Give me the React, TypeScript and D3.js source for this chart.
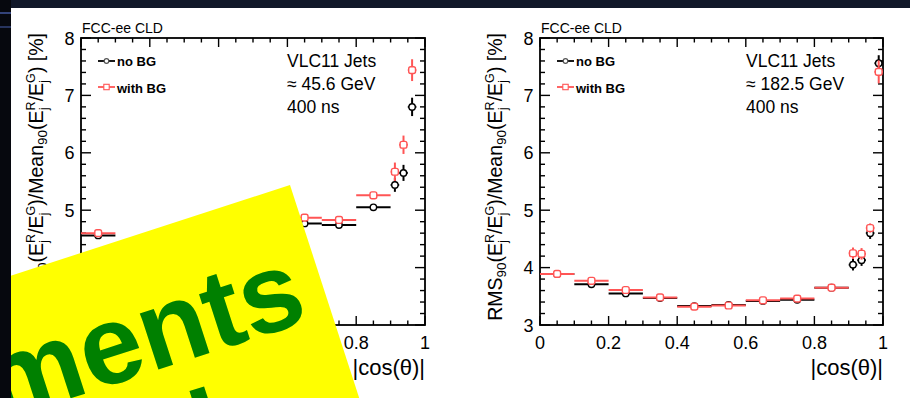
import React from "react";
import * as d3 from "d3";

// ---------- data ----------
const binEdges = [0, 0.1, 0.2, 0.3, 0.4, 0.5, 0.6, 0.7, 0.8, 0.9, 0.925, 0.95, 0.975, 1.0];

// 45.6 GeV panel
const noBG_45 = [4.56, 4.37, 4.33, 4.36, 4.45, 4.6, 4.77, 4.74, 5.05, 5.44, 5.65, 6.8, null];
const noBGErr_45 = [0.03, 0.03, 0.03, 0.03, 0.03, 0.03, 0.03, 0.03, 0.04, 0.12, 0.14, 0.16, null];
const withBG_45 = [4.6, 4.42, 4.38, 4.41, 4.5, 4.66, 4.87, 4.83, 5.26, 5.67, 6.14, 7.44, null];
const withBGErr_45 = [0.03, 0.03, 0.03, 0.03, 0.03, 0.03, 0.03, 0.03, 0.04, 0.16, 0.16, 0.19, null];

// 182.5 GeV panel
const noBG_182 = [3.89, 3.71, 3.55, 3.47, 3.33, 3.35, 3.42, 3.44, 3.65, 4.05, 4.13, 4.6, 7.56];
const noBGErr_182 = [0.02, 0.02, 0.02, 0.02, 0.02, 0.02, 0.02, 0.02, 0.02, 0.1, 0.1, 0.1, 0.14];
const withBG_182 = [3.89, 3.77, 3.61, 3.48, 3.32, 3.34, 3.43, 3.46, 3.65, 4.25, 4.24, 4.69, 7.41];
const withBGErr_182 = [0.02, 0.02, 0.02, 0.02, 0.02, 0.02, 0.02, 0.02, 0.02, 0.1, 0.1, 0.08, 0.2];

const xTickValues = [0, 0.2, 0.4, 0.6, 0.8, 1];
const xTickLabels = ["0", "0.2", "0.4", "0.6", "0.8", "1"];
const yTickValues = [3, 4, 5, 6, 7, 8];
const yTickLabels = ["3", "4", "5", "6", "7", "8"];
const legendLabels = ["no BG", "with BG"];
const info_45 = ["VLC11 Jets", "≈ 45.6 GeV", "400 ns"];
const info_182 = ["VLC11 Jets", "≈ 182.5 GeV", "400 ns"];
const experimentLabel = "FCC-ee CLD";
const xTitle = "|cos(θ)|";
const stickerLines = ["ments", "needed"];

// ---------- style ----------
const FONT = "'Liberation Sans', Arial, Helvetica, sans-serif";
const RED = "#ff5555";
const BLACK = "#000";
const Y_TOP = 38;
const Y_BOT = 325;

function Points({ x, y, vals, errs, color, marker }: any) {
  return (
    <g>
      {vals.map((v: number | null, i: number) => {
        if (v === null) return null;
        const lo = binEdges[i];
        const hi = binEdges[i + 1];
        const c = (lo + hi) / 2;
        const e = errs[i] as number;
        const cx = x(c);
        const cy = y(v);
        return (
          <g key={i}>
            <line x1={x(lo)} x2={x(hi)} y1={cy} y2={cy} stroke={color} strokeWidth={2} />
            <line x1={cx} x2={cx} y1={y(v - e)} y2={y(v + e)} stroke={color} strokeWidth={2} />
            {marker === "circle" ? (
              <circle cx={cx} cy={cy} r={3.2} fill="#fff" stroke={color} strokeWidth={1.4} />
            ) : (
              <rect x={cx - 3.4} y={cy - 3.4} width={6.8} height={6.8} rx={2} fill="#fff" stroke={color} strokeWidth={1.4} />
            )}
          </g>
        );
      })}
    </g>
  );
}

function YTitle({ bx }: { bx: number }) {
  const sup = 12.5;
  const sub = 13.5;
  return (
    <text transform={`translate(${bx},33) rotate(-90)`} textAnchor="end" fontFamily={FONT} fontSize={19.5} fill="#000">
      <tspan>RMS</tspan>
      <tspan fontSize={sub} dy={4}>90</tspan>
      <tspan dy={-4}>(E</tspan>
      <tspan fontSize={sup} dy={-8}>R</tspan>
      <tspan fontSize={sub} dx={-9} dy={13}>j</tspan>
      <tspan dx={6} dy={-5}>/E</tspan>
      <tspan fontSize={sup} dy={-8}>G</tspan>
      <tspan fontSize={sub} dx={-9.7} dy={13}>j</tspan>
      <tspan dx={6.8} dy={-5}>)/Mean</tspan>
      <tspan fontSize={sub} dy={4}>90</tspan>
      <tspan dy={-4}>(E</tspan>
      <tspan fontSize={sup} dy={-8}>R</tspan>
      <tspan fontSize={sub} dx={-9} dy={13}>j</tspan>
      <tspan dx={6} dy={-5}>/E</tspan>
      <tspan fontSize={sup} dy={-8}>G</tspan>
      <tspan fontSize={sub} dx={-9.7} dy={13}>j</tspan>
      <tspan dx={6.8} dy={-5}>) [%]</tspan>
    </text>
  );
}

function Panel({ x0, x1, noBG, noBGErr, withBG, withBGErr, info }: any) {
  const x = d3.scaleLinear().domain([0, 1]).range([x0, x1]);
  const y = d3.scaleLinear().domain([3, 8]).range([Y_BOT, Y_TOP]);
  const xMinor = d3.range(0, 1.0001, 0.05).filter((v) => Math.abs(v / 0.2 - Math.round(v / 0.2)) > 1e-6);
  const yMinor = d3.range(3, 8.0001, 0.2).filter((v) => Math.abs(v - Math.round(v)) > 1e-6);
  const tickW = 1.4;
  return (
    <g>
      {xTickValues.map((v, i) => (
        <g key={"xm" + i}>
          <line x1={x(v)} x2={x(v)} y1={Y_BOT} y2={Y_BOT - 9} stroke="#000" strokeWidth={tickW} />
          <line x1={x(v)} x2={x(v)} y1={Y_TOP} y2={Y_TOP + 9} stroke="#000" strokeWidth={tickW} />
        </g>
      ))}
      {xMinor.map((v, i) => (
        <g key={"xn" + i}>
          <line x1={x(v)} x2={x(v)} y1={Y_BOT} y2={Y_BOT - 4.5} stroke="#000" strokeWidth={tickW} />
          <line x1={x(v)} x2={x(v)} y1={Y_TOP} y2={Y_TOP + 4.5} stroke="#000" strokeWidth={tickW} />
        </g>
      ))}
      {yTickValues.map((v, i) => (
        <g key={"ym" + i}>
          <line x1={x0} x2={x0 + 10} y1={y(v)} y2={y(v)} stroke="#000" strokeWidth={tickW} />
          <line x1={x1} x2={x1 - 10} y1={y(v)} y2={y(v)} stroke="#000" strokeWidth={tickW} />
        </g>
      ))}
      {yMinor.map((v, i) => (
        <g key={"yn" + i}>
          <line x1={x0} x2={x0 + 5} y1={y(v)} y2={y(v)} stroke="#000" strokeWidth={tickW} />
          <line x1={x1} x2={x1 - 5} y1={y(v)} y2={y(v)} stroke="#000" strokeWidth={tickW} />
        </g>
      ))}
      <rect x={x0} y={Y_TOP} width={x1 - x0} height={Y_BOT - Y_TOP} fill="none" stroke="#000" strokeWidth={1.8} />

      {xTickValues.map((v, i) => (
        <text key={"xl" + i} x={x(v)} y={349} textAnchor="middle" fontFamily={FONT} fontSize={18}>
          {xTickLabels[i]}
        </text>
      ))}
      {yTickValues.map((v, i) => (
        <text key={"yl" + i} x={x0 - 6.5} y={y(v) + 6.5} textAnchor="end" fontFamily={FONT} fontSize={18}>
          {yTickLabels[i]}
        </text>
      ))}
      <text x={x1} y={375} textAnchor="end" fontFamily={FONT} fontSize={22}>
        {xTitle}
      </text>
      <YTitle bx={x0 - 38} />
      <text x={x0 + 1} y={33} fontFamily={FONT} fontSize={14}>
        {experimentLabel}
      </text>

      <Points x={x} y={y} vals={noBG} errs={noBGErr} color={BLACK} marker="circle" />
      <Points x={x} y={y} vals={withBG} errs={withBGErr} color={RED} marker="square" />

      <line x1={x0 + 17} x2={x0 + 34} y1={61} y2={61} stroke="#000" strokeWidth={1.8} />
      <circle cx={x0 + 25.5} cy={61} r={2.3} fill="#fff" stroke="#555" strokeWidth={1.2} />
      <text x={x0 + 36} y={65.5} fontFamily={FONT} fontWeight="bold" fontSize={13}>
        {legendLabels[0]}
      </text>
      <line x1={x0 + 17} x2={x0 + 34} y1={87} y2={87} stroke={RED} strokeWidth={1.8} />
      <rect x={x0 + 22.8} y={84.3} width={5.4} height={5.4} fill="#fff" stroke={RED} strokeWidth={1.1} />
      <text x={x0 + 36} y={92.5} fontFamily={FONT} fontWeight="bold" fontSize={13}>
        {legendLabels[1]}
      </text>

      {info.map((s: string, i: number) => (
        <text key={"in" + i} x={x0 + 206} y={67 + i * 23} fontFamily={FONT} fontSize={17.5}>
          {s}
        </text>
      ))}
    </g>
  );
}

export default function App() {
  return (
    <svg width={910} height={398} style={{ position: "absolute", left: 0, top: 0, display: "block" }}>
      <rect x={0} y={0} width={910} height={398} fill="#fff" />
      <Panel x0={81} x1={425} noBG={noBG_45} noBGErr={noBGErr_45} withBG={withBG_45} withBGErr={withBGErr_45} info={info_45} />
      <Panel x0={540} x1={883} noBG={noBG_182} noBGErr={noBGErr_182} withBG={withBG_182} withBGErr={withBGErr_182} info={info_182} />

      {/* yellow sticker */}
      <g transform="translate(290,185) rotate(-18)">
        <rect x={-700} y={0} width={700} height={600} fill="#ffff00" />
        <text x={-22} y={135} textAnchor="end" fontFamily={FONT} fontWeight="bold" fontSize={112} fill="#008000">
          {stickerLines[0]}
        </text>
        <text x={-136} y={246} textAnchor="end" fontFamily={FONT} fontWeight="bold" fontSize={112} fill="#008000">
          {stickerLines[1]}
        </text>
      </g>

      {/* slide background edges */}
      <rect x={0} y={0} width={910} height={8} fill="#111829" />
      <rect x={0} y={0} width={11} height={398} fill="#06080e" />
      <rect x={0} y={12} width={11} height={2} fill="#33437a" />
      <rect x={0} y={26} width={11} height={2} fill="#27345e" />
    </svg>
  );
}
